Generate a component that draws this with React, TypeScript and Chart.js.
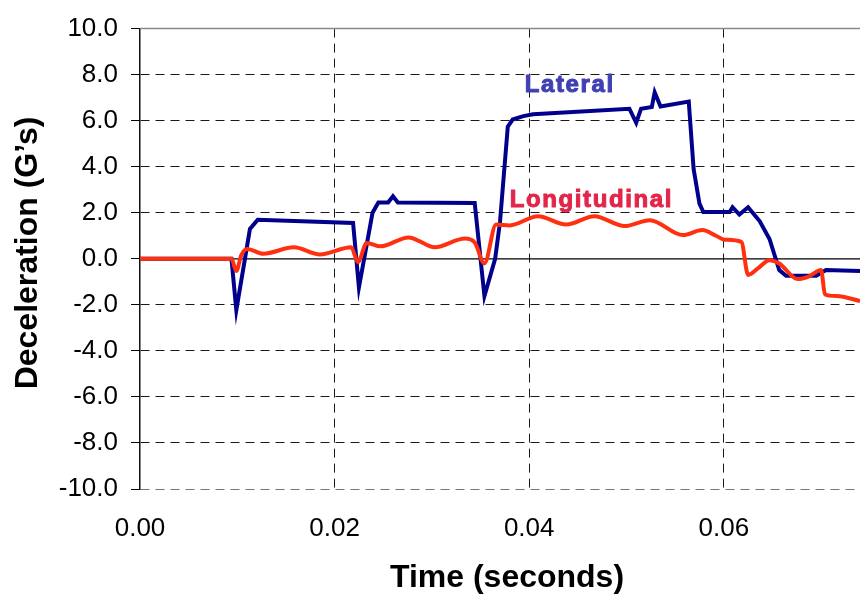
import React, { useEffect, useRef } from "react";
import { Chart, registerables } from "chart.js";

Chart.register(...registerables);

// ---- data ----
const lateralTime = [
  0, 0.0094, 0.0099, 0.0113, 0.0121, 0.0219, 0.0225, 0.0239, 0.0245, 0.0255,
  0.026, 0.0265, 0.0344, 0.0354, 0.0365, 0.037, 0.0378, 0.0383, 0.0394, 0.0404,
  0.0503, 0.051, 0.0515, 0.0526, 0.0529, 0.0535, 0.0564, 0.0569, 0.0575, 0.0579,
  0.0606, 0.0609, 0.0616, 0.0625, 0.0637, 0.0647, 0.0657, 0.0664, 0.0695, 0.0705,
  0.074,
];
const lateralG = [
  0, 0, -2.23, 1.3, 1.7, 1.56, -1.24, 2.0, 2.45, 2.45,
  2.72, 2.45, 2.42, -1.62, 0, 1.6, 5.74, 6.05, 6.2, 6.28,
  6.52, 5.91, 6.52, 6.59, 7.23, 6.62, 6.83, 3.9, 2.4, 2.03,
  2.03, 2.24, 1.92, 2.24, 1.63, 0.86, -0.49, -0.74, -0.74, -0.49,
  -0.53,
];
const longTime = [
  0, 0.0094, 0.0099, 0.0104, 0.011, 0.0127, 0.0158, 0.0185, 0.0217, 0.0224,
  0.0233, 0.0247, 0.0276, 0.0303, 0.0334, 0.0344, 0.0354, 0.0366, 0.038, 0.0409,
  0.0438, 0.0467, 0.0498, 0.0524, 0.0558, 0.0578, 0.0592, 0.0601, 0.0618, 0.0625,
  0.0635, 0.0647, 0.0657, 0.0676, 0.0687, 0.07, 0.0704, 0.0716, 0.074,
];
const longG = [
  0, 0, -0.53, 0.15, 0.43, 0.22, 0.5, 0.19, 0.5, -0.14,
  0.69, 0.54, 0.93, 0.5, 0.88, 0.71, -0.2, 1.49, 1.45, 1.85,
  1.49, 1.85, 1.42, 1.68, 1.03, 1.25, 1.0, 0.83, 0.74, -0.7,
  -0.42, -0.06, -0.2, -0.88, -0.77, -0.49, -1.55, -1.62, -1.83,
];
const xTicks = [0, 0.02, 0.04, 0.06];
const yTicks = [-10, -8, -6, -4, -2, 0, 2, 4, 6, 8, 10];
const seriesNames = ["Lateral", "Longitudinal"];
const xTitle = "Time (seconds)";
const yTitle = "Deceleration (G’s)";
// label anchor points (data coordinates)
const lateralLabelAt = { x: 0.03955, y: 7.24 };
const longLabelAt = { x: 0.038, y: 2.27 };

const FONT = '"Liberation Sans", Arial, sans-serif';

export default function App() {
  const ref = useRef<HTMLCanvasElement | null>(null);

  useEffect(() => {
    document.body.style.margin = "0";
    const canvas = ref.current;
    if (!canvas) return;

    const overlay = {
      id: "overlay",
      beforeDatasetsDraw(chart: any) {
        const { ctx, chartArea, scales } = chart;
        const y = scales.y;
        ctx.save();
        ctx.strokeStyle = "#8a8a8a";
        ctx.lineWidth = 1.5;
        ctx.beginPath();
        const yt = y.getPixelForValue(10);
        ctx.moveTo(chartArea.left, yt);
        ctx.lineTo(chartArea.right, yt);
        ctx.stroke();
        ctx.strokeStyle = "#000";
        ctx.lineWidth = 1.2;
        ctx.beginPath();
        const y0 = y.getPixelForValue(0);
        ctx.moveTo(chartArea.left, y0);
        ctx.lineTo(chartArea.right, y0);
        ctx.stroke();
        ctx.restore();
      },
      afterDraw(chart: any) {
        const { ctx, scales } = chart;
        const x = scales.x;
        const y = scales.y;
        ctx.save();
        ctx.textAlign = "left";
        ctx.textBaseline = "alphabetic";
        ctx.font = `bold 24px ${FONT}`;
        (ctx as any).letterSpacing = "1.6px";
        ctx.lineWidth = 1;
        ctx.lineJoin = "round";
        const lx = x.getPixelForValue(lateralLabelAt.x);
        const ly = y.getPixelForValue(lateralLabelAt.y);
        ctx.fillStyle = "#4040b4";
        ctx.strokeStyle = "#4040b4";
        ctx.fillText(seriesNames[0], lx, ly);
        ctx.strokeText(seriesNames[0], lx, ly);
        const gx = x.getPixelForValue(longLabelAt.x);
        const gy = y.getPixelForValue(longLabelAt.y);
        ctx.fillStyle = "#e2264a";
        ctx.strokeStyle = "#e2264a";
        ctx.fillText(seriesNames[1], gx, gy);
        ctx.strokeText(seriesNames[1], gx, gy);
        (ctx as any).letterSpacing = "0px";
        ctx.fillStyle = "#000";
        ctx.font = `bold 32px ${FONT}`;
        ctx.textAlign = "center";
        ctx.fillText(xTitle, 507, 587);
        ctx.translate(37, 253);
        ctx.rotate(-Math.PI / 2);
        ctx.fillText(yTitle, 0, 0);
        ctx.restore();
      },
    };

    const chart = new Chart(canvas, {
      type: "line",
      data: {
        datasets: [
          {
            label: seriesNames[0],
            data: lateralTime.map((t, i) => ({ x: t, y: lateralG[i] })),
            borderColor: "#00008c",
            borderWidth: 4,
            pointRadius: 0,
            tension: 0,
            fill: false,
            order: 1,
          },
          {
            label: seriesNames[1],
            data: longTime.map((t, i) => ({ x: t, y: longG[i] })),
            borderColor: "#ff3010",
            borderWidth: 4,
            pointRadius: 0,
            cubicInterpolationMode: "monotone",
            fill: false,
            order: 0,
          },
        ],
      },
      options: {
        animation: false,
        responsive: false,
        layout: { padding: { top: 18, right: 1, left: 0, bottom: 0 } },
        plugins: { legend: { display: false }, tooltip: { enabled: false } },
        scales: {
          x: {
            type: "linear",
            min: 0,
            max: 0.074,
            afterBuildTicks: (s: any) => {
              s.ticks = xTicks.map((v) => ({ value: v }));
            },
            afterFit: (s: any) => {
              s.height = 107;
            },
            ticks: {
              color: "#000",
              font: { family: FONT, size: 26 },
              padding: 24,
              maxRotation: 0,
              autoSkip: false,
              callback: (v: any) => Number(v).toFixed(2),
            },
            grid: {
              drawTicks: false,
              color: (c: any) => (c.tick && c.tick.value === 0 ? "rgba(0,0,0,0)" : "#1a1a1a"),
              lineWidth: 1,
            },
            border: { display: false, dash: [9, 6] },
          },
          y: {
            type: "linear",
            min: -10,
            max: 10,
            afterBuildTicks: (s: any) => {
              s.ticks = yTicks.map((v) => ({ value: v }));
            },
            afterFit: (s: any) => {
              s.width = 140;
            },
            ticks: {
              color: "#000",
              font: { family: FONT, size: 26 },
              padding: 13,
              autoSkip: false,
              callback: (v: any) => Number(v).toFixed(1),
            },
            grid: {
              drawTicks: true,
              tickLength: 9,
              tickColor: "#000",
              tickWidth: 1,
              color: (c: any) => {
                const v = c.tick ? c.tick.value : null;
                if (v === 0 || v === 10) return "rgba(0,0,0,0)";
                if (v === -10) return "#777";
                return "#1a1a1a";
              },
              lineWidth: 1,
            },
            border: { display: true, color: "#111", width: 1.5, dash: [9, 6] },
          },
        },
      },
      plugins: [overlay],
    } as any);

    return () => chart.destroy();
  }, []);

  return (
    <div style={{ width: 861, height: 596 }}>
      <canvas ref={ref} width={861} height={596} style={{ display: "block" }} />
    </div>
  );
}
